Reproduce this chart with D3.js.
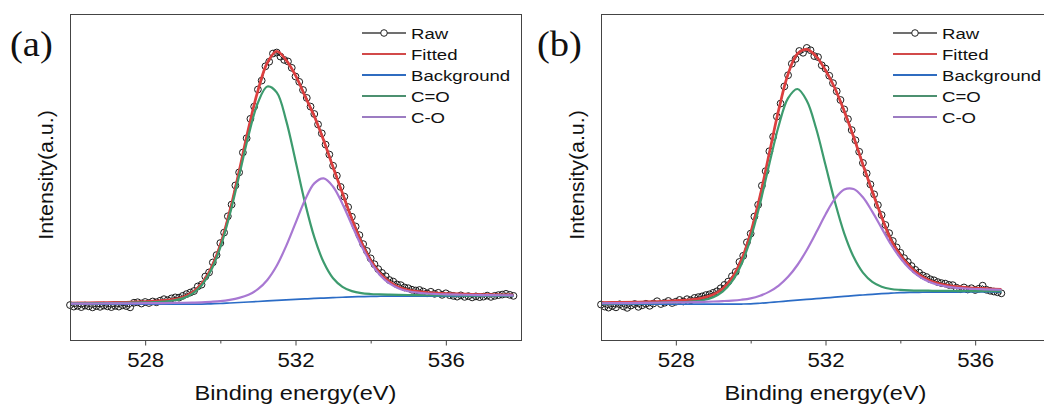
<!DOCTYPE html>
<html>
<head>
<meta charset="utf-8">
<script src="https://cdn.jsdelivr.net/npm/d3@7"></script>
<style>
  body { margin: 0; background: #fff; }
  text { font-family: Arial, "Liberation Sans", sans-serif; fill: #111; }
</style>
</head>
<body>
<svg width="1044" height="407"></svg>
<script>
// ---- data (binding energy in eV, intensity in arbitrary units) ----
var ticksMajor = [528, 532, 536];
var ticksMinor = [530, 534];
var legendNames = ["Raw", "Fitted", "Background", "C=O", "C-O"];
var panelLabels = ["(a)", "(b)"];

// panel (a)
var energyA = [526, 526.5, 527, 527.5, 528, 528.25, 528.5, 528.75, 529, 529.25, 529.5, 529.75,
  530, 530.25, 530.5, 530.75, 531, 531.25, 531.5, 531.75, 532, 532.25, 532.5, 532.75,
  533, 533.25, 533.5, 533.75, 534, 534.25, 534.5, 534.75, 535, 535.25, 535.5, 535.75,
  536, 536.5, 537, 537.5, 537.8];
var fittedA = [0.8, 0.9, 1.0, 1.1, 1.35, 1.55, 1.8, 2.2, 3.1, 4.9, 8.3, 14.3,
  23.6, 36.7, 52.5, 69.3, 84.1, 95, 99.5, 96, 90, 82, 74, 64.5,
  54, 43.8, 33.7, 24.7, 17.5, 12.4, 9.1, 7.0, 5.9, 5.25, 4.9, 4.65,
  4.5, 4.3, 4.1, 4.0, 3.95];
var backgroundA = [0.4, 0.4, 0.4, 0.4, 0.4, 0.4, 0.4, 0.4, 0.4, 0.4, 0.4, 0.5,
  0.6, 0.8, 1.0, 1.2, 1.4, 1.6, 1.8, 2.0, 2.2, 2.4, 2.6, 2.75,
  2.9, 3.05, 3.2, 3.3, 3.4, 3.45, 3.5, 3.5, 3.5, 3.5, 3.5, 3.5,
  3.5, 3.5, 3.5, 3.5, 3.5];
var cdoA = [0.65, 0.7, 0.77, 0.87, 1.03, 1.16, 1.37, 1.78, 2.63, 4.36, 7.66, 13.5,
  22.6, 35.4, 50.7, 66.5, 79.3, 85.7, 83.4, 72.4, 56.6, 40.3, 26.6, 16.75,
  10.5, 7.15, 5.45, 4.65, 4.33, 4.2, 4.1, 4.02, 3.95, 3.9, 3.85, 3.81,
  3.78, 3.73, 3.7, 3.67, 3.65];
var coA = [0.56, 0.59, 0.62, 0.66, 0.72, 0.75, 0.79, 0.84, 0.9, 0.97, 1.06, 1.28,
  1.56, 2.05, 2.79, 4.03, 6.21, 9.84, 15.4, 23.1, 32.1, 41.1, 47.7, 49.65,
  46.4, 39.65, 31.4, 23.3, 16.6, 11.7, 8.47, 6.52, 5.43, 4.85, 4.53, 4.34,
  4.2, 4.04, 3.93, 3.85, 3.81];
// raw points, 0.1 eV step from 526.0
var rawStartA = 526.0;
var rawA = [0.0, -0.6, -0.3, -0.8, -0.2, -0.5, -0.9, -0.4, -0.7, -0.2,
  -0.5, -0.8, -0.3, -0.6, -0.1, -0.4, -0.9, 0.9, 1.1, 0.6,
  1.2, 0.8, 1.4, 1.1, 1.7, 2.3, 1.9, 2.6, 3.0, 2.9,
  3.6, 4.3, 4.9, 5.5, 7.3, 8.0, 11.2, 12.8, 16.7, 19.6,
  24.3, 28.4, 34.8, 39.4, 46.9, 52.0, 59.8, 65.4, 73.0, 77.8,
  84.5, 88.0, 93.6, 95.4, 98.6, 99.0, 97.4, 96.1, 95.5, 93.0,
  89.6, 87.5, 84.3, 81.2, 77.8, 74.9, 70.8, 67.3, 62.9, 59.0,
  54.6, 50.7, 46.3, 42.5, 38.4, 34.6, 30.8, 27.4, 23.9, 21.2,
  18.3, 16.0, 14.1, 12.6, 11.3, 9.8, 9.2, 8.1, 7.8, 6.9,
  6.6, 6.0, 5.7, 5.9, 5.3, 4.6, 5.2, 4.4, 4.8, 4.0,
  4.6, 3.9, 3.6, 3.3, 3.8, 3.2, 3.5, 3.0, 3.4, 3.1,
  3.3, 3.7, 3.2, 3.6, 3.9, 4.1, 4.4, 4.0, 3.6];

// panel (b)
var energyB = [526, 526.5, 527, 527.5, 528, 528.25, 528.5, 528.75, 529, 529.25, 529.5, 529.75,
  530, 530.25, 530.5, 530.75, 531, 531.25, 531.5, 531.75, 532, 532.25, 532.5, 532.75,
  533, 533.25, 533.5, 533.75, 534, 534.25, 534.5, 534.75, 535, 535.25, 535.5, 535.75,
  536, 536.25, 536.5, 536.7];
var fittedB = [1.0, 1.1, 1.2, 1.4, 1.7, 1.9, 2.2, 2.9, 4.1, 6.4, 10.6, 17.6,
  28.3, 42.7, 59.7, 76.6, 90.6, 98.5, 100.2, 97.5, 92, 85, 76, 66,
  55, 44.5, 34.5, 25.5, 19.6, 15.1, 11.9, 9.8, 8.5, 7.7, 7.2, 6.9,
  6.6, 6.5, 6.3, 6.2];
var backgroundB = [0.4, 0.4, 0.4, 0.4, 0.4, 0.4, 0.4, 0.4, 0.4, 0.4, 0.4, 0.4,
  0.45, 0.7, 1.0, 1.3, 1.6, 1.9, 2.2, 2.5, 2.8, 3.1, 3.4, 3.7,
  3.95, 4.2, 4.45, 4.65, 4.85, 4.95, 5.0, 5.05, 5.05, 5.1, 5.1, 5.15,
  5.15, 5.2, 5.2, 5.2];
var cdoB = [0.66, 0.71, 0.78, 0.89, 1.05, 1.2, 1.47, 1.99, 3.07, 5.23, 9.24, 15.9,
  26.15, 39.7, 55.4, 70.3, 81.1, 84.7, 80.1, 69.2, 54.9, 40.5, 28.1, 18.9,
  12.7, 9.08, 7.2, 6.3, 5.96, 5.78, 5.68, 5.63, 5.55, 5.55, 5.5, 5.51,
  5.47, 5.49, 5.46, 5.44];
var coB = [0.71, 0.76, 0.83, 0.91, 1.02, 1.09, 1.17, 1.27, 1.39, 1.55, 1.75, 2.07,
  2.61, 3.65, 5.26, 7.63, 11.05, 15.7, 21.6, 28.4, 35.5, 41.6, 45.3, 45.5,
  42.25, 36.6, 30.15, 23.75, 18.45, 14.24, 11.23, 9.24, 7.96, 7.23, 6.75, 6.5,
  6.29, 6.18, 6.07, 5.99];
var rawStartB = 526.0;
var rawB = [0.2, -0.6, -1.0, -0.4, -0.9, 0.3, -0.5, -1.1, -0.2, 0.4,
  -0.7, -0.1, 0.5, -0.3, 0.6, 1.5, 0.4, 0.9, 1.6, 0.8,
  1.3, 2.0, 1.4, 2.3, 1.9, 2.8, 3.1, 3.4, 3.9, 4.2,
  4.8, 5.4, 6.6, 7.9, 9.2, 11.3, 13.0, 16.9, 19.3, 24.6,
  28.0, 34.7, 39.3, 46.8, 52.5, 60.3, 66.0, 73.9, 79.0, 85.7,
  90.1, 94.6, 96.5, 99.6, 98.9, 100.8, 99.9, 97.6, 97.2, 94.0,
  92.7, 89.9, 87.0, 83.8, 80.4, 76.7, 72.9, 68.6, 64.6, 60.1,
  55.7, 51.6, 47.3, 43.4, 39.2, 35.3, 31.4, 28.2, 25.1, 22.6,
  20.5, 18.4, 16.9, 15.3, 13.8, 12.7, 11.6, 11.0, 10.1, 9.7,
  9.0, 8.6, 8.4, 7.9, 7.8, 6.8, 6.2, 6.9, 6.1, 6.6,
  5.9, 6.4, 7.6, 6.0, 5.6, 5.3, 5.0, 4.6];

var colors = { raw: "#1a1a1a", fitted: "#dc3f3f", background: "#2b6cc6", cdo: "#3d9b6e", co: "#a878d2" };
var legendColors = ["#404040", "#d24a4a", "#2f6cc0", "#4c9070", "#9c7cc2"];

// ---- drawing ----
var svg = d3.select("svg");
var plotTop = 14, plotBottom = 340;

var y = d3.scaleLinear().domain([-13.7, 114.1]).range([plotBottom, plotTop]);

var panels = [
  { x0: 70, x1: 521, label: panelLabels[0], labelX: 10,
    energy: energyA, fitted: fittedA, background: backgroundA, cdo: cdoA, co: coA,
    rawStart: rawStartA, raw: rawA },
  { x0: 601, x1: 1050, label: panelLabels[1], labelX: 537,
    energy: energyB, fitted: fittedB, background: backgroundB, cdo: cdoB, co: coB,
    rawStart: rawStartB, raw: rawB }
];

function stretchText(parent, x, yy, str, size, sx, anchor, rot) {
  return parent.append("text")
    .attr("transform", "translate(" + x + "," + yy + ")" + (rot ? " rotate(" + rot + ")" : "") + " scale(" + sx + ",1)")
    .attr("text-anchor", anchor || "start")
    .style("font-size", size + "px")
    .text(str);
}

panels.forEach(function(p) {
  var x = d3.scaleLinear().domain([526, 538]).range([p.x0, p.x1]);
  var g = svg.append("g");

  var line = d3.line()
    .x(function(d) { return x(d[0]); })
    .y(function(d) { return y(d[1]); })
    .curve(d3.curveCatmullRom.alpha(0.5));

  function series(vals) { return p.energy.map(function(e, i) { return [e, vals[i]]; }); }

  var rawPts = p.raw.map(function(v, i) { return [p.rawStart + i * 0.1, v]; });

  // raw data: thin line + open circles
  g.append("path")
    .attr("d", d3.line().x(function(d) { return x(d[0]); }).y(function(d) { return y(d[1]); })(rawPts))
    .attr("fill", "none").attr("stroke", colors.raw).attr("stroke-width", 1);
  g.selectAll("circle.raw").data(rawPts).enter().append("circle")
    .attr("class", "raw")
    .attr("cx", function(d) { return x(d[0]); })
    .attr("cy", function(d) { return y(d[1]); })
    .attr("r", 3.4)
    .attr("fill", "none").attr("stroke", colors.raw).attr("stroke-width", 1);

  g.append("path").attr("d", line(series(p.fitted)))
    .attr("fill", "none").attr("stroke", colors.fitted).attr("stroke-width", 2.7);
  g.append("path").attr("d", line(series(p.background)))
    .attr("fill", "none").attr("stroke", colors.background).attr("stroke-width", 1.7);
  g.append("path").attr("d", line(series(p.cdo)))
    .attr("fill", "none").attr("stroke", colors.cdo).attr("stroke-width", 2.2);
  g.append("path").attr("d", line(series(p.co)))
    .attr("fill", "none").attr("stroke", colors.co).attr("stroke-width", 2.2);

  // frame
  g.append("rect")
    .attr("x", p.x0 + 0.5).attr("y", plotTop + 0.5)
    .attr("width", p.x1 - p.x0).attr("height", plotBottom - plotTop)
    .attr("fill", "none").attr("stroke", "#444").attr("stroke-width", 1);

  // bottom axis
  var ax = g.append("g").attr("transform", "translate(0," + (plotBottom + 0.5) + ")")
    .call(d3.axisBottom(x).tickValues(ticksMajor).tickSize(5).tickFormat(d3.format("d")));
  ax.select(".domain").remove();
  ax.selectAll(".tick line").attr("stroke", "#444");
  ax.selectAll(".tick text")
    .attr("y", 26.5).attr("dy", null)
    .attr("transform", "scale(1.14,1)")
    .attr("fill", "#111")
    .style("font-size", "19.5px")
    .style("font-family", "Arial, 'Liberation Sans', sans-serif");
  var axm = g.append("g").attr("transform", "translate(0," + (plotBottom + 0.5) + ")")
    .call(d3.axisBottom(x).tickValues(ticksMinor).tickSize(3).tickFormat(""));
  axm.select(".domain").remove();
  axm.selectAll(".tick line").attr("stroke", "#444");

  // axis titles
  stretchText(g, x(532), 400, "Binding energy(eV)", 20, 1.18, "middle");
  stretchText(g, p.x0 - 17, 175, "Intensity(a.u.)", 20, 1.07, "middle", -90);

  // panel label
  g.append("text")
    .attr("transform", "translate(" + p.labelX + ",56) scale(1.07,1)")
    .style("font-family", "'Liberation Serif', 'Times New Roman', serif")
    .style("font-size", "36px")
    .text(p.label);

  // legend
  var lg = g.append("g").attr("transform", "translate(" + (p.x0 + 292) + ",0)");
  legendNames.forEach(function(name, i) {
    var cy = 33 + i * 21;
    lg.append("line").attr("x1", 0).attr("x2", 44).attr("y1", cy).attr("y2", cy)
      .attr("stroke", legendColors[i]).attr("stroke-width", i === 0 ? 1.5 : 2);
    if (i === 0) {
      lg.append("circle").attr("cx", 22).attr("cy", cy).attr("r", 3.3)
        .attr("fill", "#fff").attr("stroke", "#222").attr("stroke-width", 1);
    }
    stretchText(lg, 49, cy + 5.5, name, 15, 1.24, "start");
  });
});
</script>
</body>
</html>
